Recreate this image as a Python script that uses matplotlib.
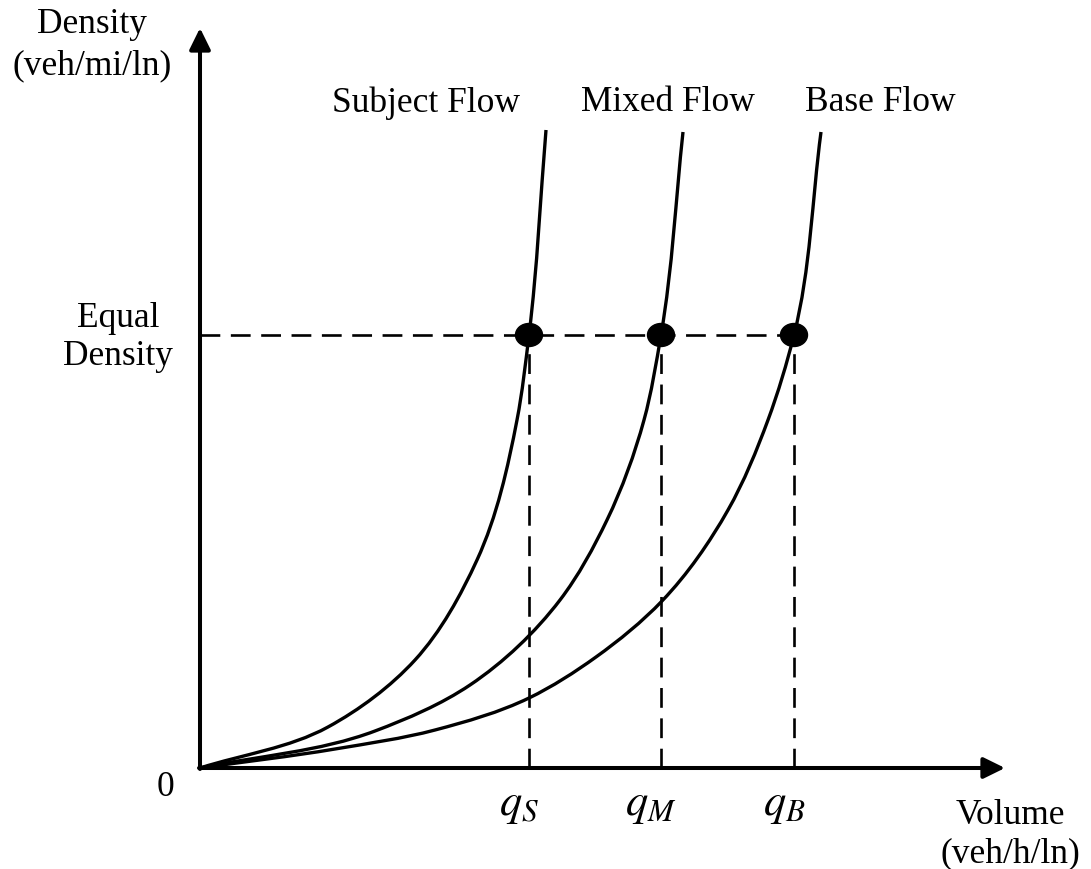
import numpy as np
import matplotlib.pyplot as plt
from matplotlib.patches import Ellipse, PathPatch
from matplotlib.path import Path

## Sketch of density vs volume for subject, mixed and base flow
## (arbitrary units)

# Subject Flow curve
subject_vol = [0, 1.28, 2.15, 2.77, 3.17, 3.29, 3.46]
subject_den = [0, 0.41, 1.08, 2.08, 3.48, 4.33, 6.38]

# Mixed Flow curve
mixed_vol = [0, 1.75, 2.70, 3.60, 4.07, 4.44, 4.61, 4.83]
mixed_den = [0, 0.37, 0.83, 1.68, 2.48, 3.48, 4.33, 6.36]

# Base Flow curve
base_vol = [0, 1.35, 2.35, 3.29, 3.96, 4.62, 5.28, 5.68, 5.94, 6.21]
base_den = [0, 0.19, 0.38, 0.70, 1.11, 1.67, 2.58, 3.48, 4.33, 6.36]

curve_labels = ['Subject Flow', 'Mixed Flow', 'Base Flow']
equal_density = 4.33
q_values = [3.29, 4.61, 5.94]
q_labels = [r'$q_S$', r'$q_M$', r'$q_B$']


def smooth_curve(vol, den):
    "Bezier path going through every read point (Bessel tangents)"
    pts = np.column_stack([vol, den])
    n = len(pts)
    h = np.hypot(*np.diff(pts, axis=0).T)
    d = np.diff(pts, axis=0) / h[:, None]
    # tangents at each point, weighted towards the shorter neighbour segment
    m = np.zeros_like(pts)
    m[0], m[-1] = d[0], d[-1]
    for i in range(1, n - 1):
        m[i] = (d[i - 1] * h[i] + d[i] * h[i - 1]) / (h[i - 1] + h[i])
    verts = [pts[0]]
    codes = [Path.MOVETO]
    for i in range(n - 1):
        verts += [pts[i] + m[i] * h[i] / 3., pts[i + 1] - m[i + 1] * h[i] / 3., pts[i + 1]]
        codes += [Path.CURVE4] * 3
    return Path(verts, codes)


# plot options (serif, large fonts)
plt.rcParams['font.family'] = ['Liberation Serif', 'DejaVu Serif']
plt.rcParams['mathtext.fontset'] = 'stix'
fsize = 25.5

fig = plt.figure(figsize=(10.91, 8.69), dpi=100)
ax = fig.add_axes([0, 0, 1, 1])
ax.set_xlim(-2.0, 8.91)
ax.set_ylim(-1.01, 7.68)
ax.axis('off')

# axes with arrows
arrow = dict(arrowstyle='-|>,head_length=0.65,head_width=0.32', mutation_scale=20,
             color='black', lw=2.9, shrinkA=0, shrinkB=0)
ax.annotate('', xy=(8.05, 0), xytext=(-0.01, 0), arrowprops=arrow)
ax.annotate('', xy=(0, 7.40), xytext=(0, -0.01), arrowprops=arrow)

# the three flow curves
for vol, den in [(subject_vol, subject_den), (mixed_vol, mixed_den), (base_vol, base_den)]:
    ax.add_patch(PathPatch(smooth_curve(vol, den), facecolor='none', edgecolor='black',
                           lw=2.4, capstyle='butt'))

# equal density line and drop lines to the volume axis
ax.plot([0, q_values[-1]], [equal_density, equal_density], color='black', lw=1.9,
        linestyle=(0, (7.5, 4)))
for q in q_values:
    ax.plot([q, q], [0, equal_density], color='black', lw=1.9, linestyle=(0, (7.5, 4)))
    ax.add_patch(Ellipse((q, equal_density), 0.27, 0.23, color='black', zorder=5))

# text decorations
label_x = [2.26, 4.68, 6.80]
for lx, lab in zip(label_x, curve_labels):
    ax.text(lx, 6.65, lab, ha='center', va='center', fontsize=fsize)

for q, lab in zip(q_values, q_labels):
    ax.text(q - 0.1, -0.38, lab, ha='center', va='center', fontsize=32)

ax.text(-0.35, -0.19, '0', ha='center', va='center', fontsize=fsize)
ax.text(-0.82, 4.30, 'Equal\nDensity', ha='center', va='center', fontsize=fsize,
        linespacing=1.2)
ax.text(-1.08, 7.23, 'Density\n(veh/mi/ln)', ha='center', va='center', fontsize=fsize,
        linespacing=1.35)
ax.text(8.10, -0.67, 'Volume\n(veh/h/ln)', ha='center', va='center', fontsize=fsize,
        linespacing=1.2)

plt.savefig('out.png', dpi=100)
